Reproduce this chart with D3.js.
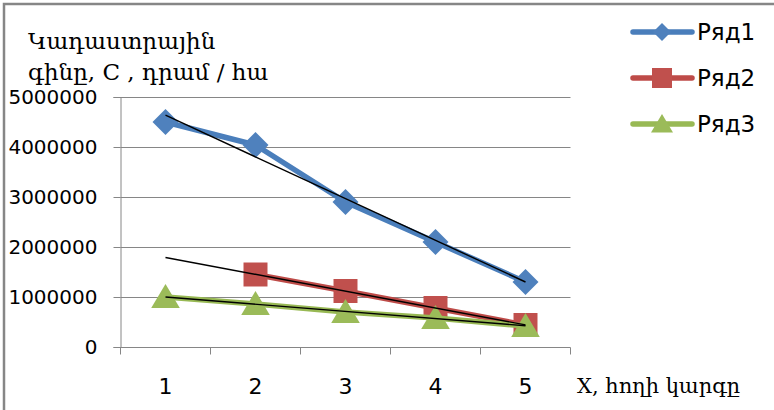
<!DOCTYPE html>
<html>
<head>
<meta charset="utf-8">
<script src="https://cdn.jsdelivr.net/npm/d3@7"></script>
<style>
  html, body { margin: 0; padding: 0; background: #fff; }
  svg { display: block; }
</style>
</head>
<body>
<svg id="chart" width="774" height="410"></svg>
<script>
// Land category (x) and cadastral value per hectare for three series
const categories = [1, 2, 3, 4, 5];
const series1 = [4500000, 4040000, 2900000, 2100000, 1300000];
const series2 = [null, 1450000, 1120000, 780000, 440000];
const series3 = [1000000, 860000, 700000, 580000, 420000];
const seriesNames = ["Ряд1", "Ряд2", "Ряд3"];
const yTicks = [0, 1000000, 2000000, 3000000, 4000000, 5000000];
const yTitle = ["Կադաստրային", "գինը, C , դրամ / հա"];
const xTitle = "X, հողի կարգը";

const colors = [
  { line: "#4A7EBB", fill: "#4F81BD" },
  { line: "#BE4B48", fill: "#C0504D" },
  { line: "#98B954", fill: "#9BBB59" }
];

// marker outlines: square diamond, square, equilateral-ish triangle (half-size s)
const markerPath = [
  s => `M0,${-s}L${s},0L0,${s}L${-s},0Z`,
  s => `M${-s},${-s}H${s}V${s}H${-s}Z`,
  s => `M0,${-s}L${s * 1.1},${s * 0.85}H${-s * 1.1}Z`
];

const svg = d3.select("#chart");
const plot = { left: 120.5, right: 570.5, top: 97, bottom: 347 };

const x = d3.scaleBand().domain(categories).range([plot.left, plot.right]);
const xc = c => x(c) + x.bandwidth() / 2;
const y = d3.scaleLinear().domain([0, 5000000]).range([plot.bottom, plot.top]);

// outer frame
svg.append("rect").attr("x", 4).attr("y", 4).attr("width", 790).attr("height", 420)
  .attr("fill", "none").attr("stroke", "#868686").attr("stroke-width", 2.5);

// gridlines
svg.append("g").selectAll("line").data(yTicks.slice(1)).join("line")
  .attr("x1", plot.left).attr("x2", plot.right)
  .attr("y1", d => Math.round(y(d)) + 0.5).attr("y2", d => Math.round(y(d)) + 0.5)
  .attr("stroke", "#868686").attr("stroke-width", 1);

// y axis
const yAxis = svg.append("g").attr("transform", `translate(${plot.left},0)`)
  .call(d3.axisLeft(y).tickValues(yTicks).tickFormat(d3.format("d")).tickSize(7).tickPadding(16));
yAxis.select(".domain").attr("stroke", "#868686");
yAxis.selectAll(".tick line").attr("stroke", "#868686");
yAxis.selectAll("text").attr("font-family", "DejaVu Sans").attr("font-size", 20).attr("fill", "#000");

// x axis with ticks at category boundaries
const xAxisG = svg.append("g").attr("transform", `translate(0,${plot.bottom + 0.5})`);
xAxisG.append("line").attr("x1", plot.left).attr("x2", plot.right).attr("stroke", "#868686");
const bounds = categories.map(c => x(c)).concat([plot.right]);
xAxisG.selectAll("line.tk").data(bounds).join("line").attr("class", "tk")
  .attr("x1", d => d).attr("x2", d => d).attr("y1", 0).attr("y2", 7).attr("stroke", "#868686");
xAxisG.selectAll("text").data(categories).join("text")
  .attr("x", d => xc(d)).attr("y", 46).attr("text-anchor", "middle")
  .attr("font-family", "DejaVu Sans").attr("font-size", 22).text(d => d);

// least-squares trend line over available points, drawn across all categories
function trend(vals) {
  const pts = vals.map((v, i) => [categories[i], v]).filter(p => p[1] != null);
  const mx = d3.mean(pts, p => p[0]), my = d3.mean(pts, p => p[1]);
  const b = d3.sum(pts, p => (p[0] - mx) * (p[1] - my)) / d3.sum(pts, p => (p[0] - mx) ** 2);
  const a = my - b * mx;
  const c0 = categories[0], c1 = categories[categories.length - 1];
  return [[c0, a + b * c0], [c1, a + b * c1]];
}

const allSeries = [series1, series2, series3];
const line = d3.line().defined(d => d[1] != null).x(d => xc(d[0])).y(d => y(d[1]));

allSeries.forEach((vals, i) => {
  const pts = vals.map((v, j) => [categories[j], v]);
  svg.append("path").datum(pts).attr("d", line)
    .attr("fill", "none").attr("stroke", colors[i].line).attr("stroke-width", 5.5)
    .attr("stroke-linejoin", "round").attr("stroke-linecap", "round");
  const half = [13, 12, 13][i];
  svg.append("g").selectAll("path").data(pts.filter(p => p[1] != null)).join("path")
    .attr("transform", p => `translate(${xc(p[0])},${y(p[1])})`)
    .attr("d", markerPath[i](half))
    .attr("fill", colors[i].fill);
});

// trend lines on top
allSeries.forEach(vals => {
  svg.append("path").datum(trend(vals)).attr("d", line)
    .attr("fill", "none").attr("stroke", "#000").attr("stroke-width", 1.4);
});

// legend
const legend = svg.append("g");
seriesNames.forEach((name, i) => {
  const ly = 32 + i * 46;
  legend.append("line").attr("x1", 633).attr("x2", 692).attr("y1", ly).attr("y2", ly)
    .attr("stroke", colors[i].line).attr("stroke-width", 5.5).attr("stroke-linecap", "round");
  legend.append("path").attr("transform", `translate(662,${ly})`)
    .attr("d", markerPath[i]([9, 10, 10][i])).attr("fill", colors[i].fill);
  legend.append("text").attr("x", 697).attr("y", ly + 8)
    .attr("font-family", "DejaVu Sans").attr("font-size", 23).text(name);
});

// axis titles
const yt = svg.append("text").attr("font-family", "DejaVu Serif").attr("font-size", 23).attr("fill", "#000");
yt.append("tspan").attr("x", 28).attr("y", 49).text(yTitle[0]);
yt.append("tspan").attr("x", 28).attr("y", 80).text(yTitle[1]);

svg.append("text").attr("x", 577).attr("y", 393)
  .attr("font-family", "DejaVu Serif").attr("font-size", 21).text(xTitle);
</script>
</body>
</html>
